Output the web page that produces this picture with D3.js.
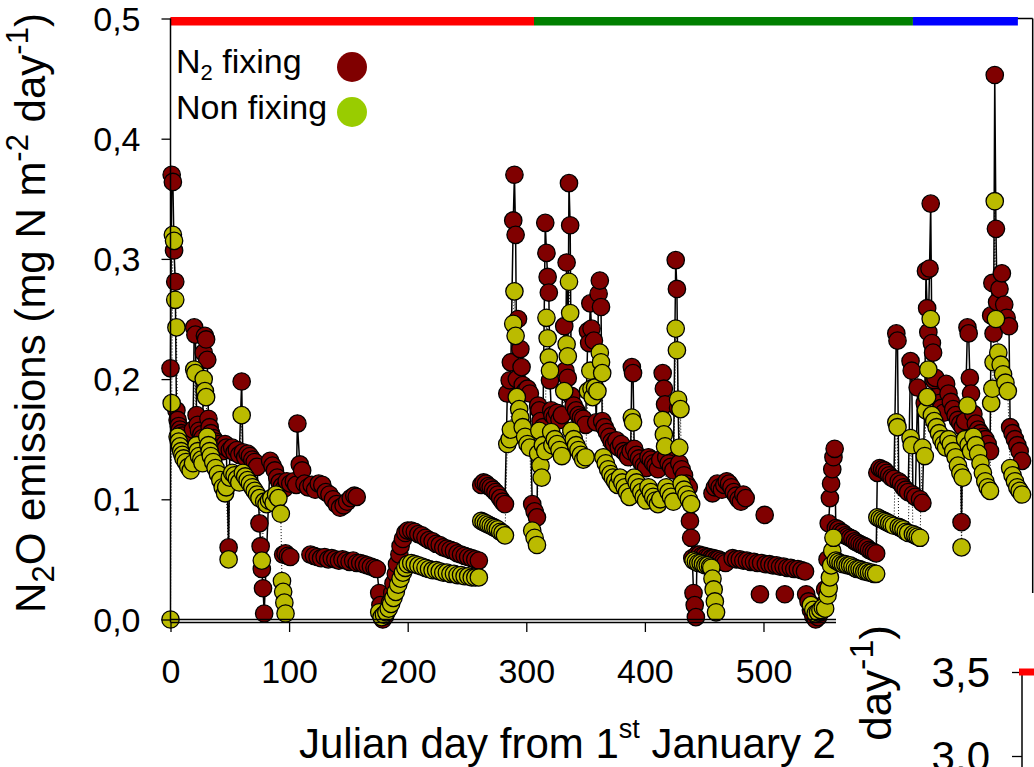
<!DOCTYPE html>
<html>
<head>
<meta charset="utf-8">
<script src="https://cdn.jsdelivr.net/npm/d3@7"></script>
<style>
  body { margin: 0; background: #fff; }
  svg { display: block; }
  text { font-family: 'Liberation Sans', Arial, sans-serif; fill: #000; }
</style>
</head>
<body>
<div id="viz"></div>
<script>
const width = 1034;
const height = 767;

// [day, N2O] pairs; null breaks the connecting line
const fixing = [
  [0,.209],[1,.370],[2,.364],[3,.307],[4,.281],[5,.174],[6,.166],[7,.161],[8,.158],[9,.155],[10,.153],[11,.150],[13,.148],[15,.146],[17,.150],[19,.158],
  [20,.243],[21,.237],[22,.170],[23,.162],[24,.157],[26,.154],[27,.151],[28,.222],[29,.236],[30,.233],[31,.216],[32,.167],[33,.160],[34,.155],[36,.151],
  [38,.148],[40,.146],[42,.143],[44,.140],[46,.146],[47,.143],[49,.060],[50,.141],[52,.143],[54,.139],[56,.141],[58,.137],[60,.198],[61,.139],[63,.135],
  [65,.138],[67,.136],[69,.133],[71,.131],[73,.127],[75,.080],[76,.061],[77,.042],[78,.026],[79,.005],
  [84,.132],[86,.128],[88,.124],[90,.118],[92,.114],[94,.111],[96,.109],[98,.115],[101,.113],[104,.115],[106,.112],[107,.163],[109,.129],[111,.124],
  [113,.113],[116,.110],[119,.112],[122,.108],[125,.113],[128,.112],[131,.106],[134,.104],[137,.100],[140,.096],[143,.093],[146,.095],[149,.098],
  [152,.101],[155,.103],[157,.102], null,
  [95,.054],[97,.055],[99,.053],[101,.052], null,
  [118,.054],[121,.053],[124,.052],[127,.051],[130,.052],[133,.050],[136,.051],[139,.050],[142,.049],[145,.050],[148,.049],[151,.048],[154,.049],
  [157,.047],[160,.047],[163,.046],[166,.045],[169,.044],[172,.043],[174,.042],[176,.022],[177,.012],[178,.004],[179,.000],[181,.003],[183,.008],
  [185,.014],[187,.022],[188,.030],[190,.038],[191,.046],[193,.054],[194,.061],[196,.067],[198,.072],[200,.074],[203,.074],[206,.073],[209,.071],
  [212,.070],[215,.068],[218,.066],[221,.065],[224,.063],[227,.062],[230,.060],[233,.059],[236,.058],[239,.057],[242,.055],[245,.054],[248,.053],
  [251,.052],[254,.051],[257,.050],[260,.049], null,
  [262,.112],[264,.114],[266,.113],[268,.111],[270,.110],[272,.108],[274,.106],[276,.104],[278,.101],[280,.098],[282,.096],[284,.188],[286,.199],
  [287,.214],[289,.332],[290,.370],[291,.320],[292,.200],[293,.250],[295,.225],[296,.210],[297,.195],[299,.190],[301,.192],[303,.188],
  [305,.096],[307,.090],[309,.085],[310,.178],[311,.174],[312,.165],[314,.160],[316,.330],[317,.305],[318,.285],
  [319,.272],[320,.199],[321,.174],[322,.170],[324,.168],[326,.172],[328,.166],[330,.170],[332,.244],[333,.207],[334,.297],[335,.201],[336,.363],
  [337,.328],[338,.186],[340,.178],[342,.174],[344,.170],[346,.168],[348,.167],[350,.162],[352,.240],[353,.230],[354,.263],[355,.242],[357,.232],
  [359,.164],[361,.271],[362,.282],[363,.260],[364,.165],[366,.160],[368,.156],[370,.152],[372,.148],[374,.146],[376,.149],[378,.143],[380,.146],
  [382,.140],[384,.138],[386,.135],[388,.140],[389,.210],[390,.205],[391,.142],[393,.137],[395,.134],[397,.131],[399,.128],[401,.126],[403,.135],
  [405,.133],[407,.130],[409,.128],[411,.125],[413,.133],[415,.205],[416,.192],[417,.179],[418,.135],[420,.130],[422,.127],[424,.124],[426,.299],
  [427,.275],[428,.176],[429,.130],[431,.125],[433,.120],[435,.113],[437,.110],[438,.082],[439,.068],[440,.051],[441,.022],[442,.012],[443,.002],
  [444,.054],[446,.054],[448,.053],[450,.053],[452,.052],[454,.052],[456,.051],[458,.051],[460,.050],[462,.050],[464,.049],[466,.048],[468,.047], null,
  [457,.105],[459,.110],[461,.113],[463,.110],[465,.108],[467,.112],[469,.115],[471,.113],[473,.110],[475,.106],[477,.103],[479,.100],[481,.098],
  [483,.104],[485,.101], null,
  [474,.051],[477,.050],[480,.050],[483,.049],[486,.049],[489,.048],[492,.048],[495,.047],[498,.047],[502,.046],[505,.046],[508,.045],[511,.045],
  [514,.044],[517,.044],[520,.043],[523,.043],[526,.042],[529,.042],[532,.041],[535,.040], null,
  [497,.021], null, [501,.087], null, [518,.021], null, [536,.021], null,
  [538,.015],[540,.008],[542,.003],[544,.000],[546,.002],[548,.006],[550,.012],[552,.025],[554,.050],[555,.080],[556,.101],[557,.113],[558,.125],
  [559,.135],[560,.142],[561,.076],[563,.075],[565,.073],[567,.072],[569,.070],[571,.069],[573,.068],[575,.067],[577,.065],[579,.064],[581,.063],
  [583,.062],[585,.061],[587,.060],[589,.058],[591,.057],[593,.056],[595,.055],[596,.122],[598,.126],[600,.125],[602,.124],[604,.122],[606,.120],
  [608,.118],[610,.117],[612,.238],[613,.232],[614,.115],[616,.113],[618,.110],[620,.108],[622,.106],[624,.215],[625,.207],[626,.104],[628,.102],
  [630,.193],[632,.100],[634,.097],[636,.180],[637,.290],[638,.259],[639,.239],[640,.292],[641,.346],[642,.230],[643,.222],[644,.199],[645,.201],
  [646,.185],[648,.180],[650,.176],[652,.172],[654,.196],[656,.188],[658,.181],[660,.175],[662,.170],[664,.166],[666,.163],[667,.081],[668,.160],
  [670,.165],[672,.243],[673,.238],[674,.201],[675,.188],[677,.171],[679,.163],[681,.158],[683,.155],[685,.152],[687,.150],[689,.146],[691,.140],
  [692,.253],[693,.280],[694,.238],[695,.453],[696,.325],[697,.264],[699,.275],[701,.288],[703,.262],[705,.251],[707,.244],[708,.160],[710,.155],
  [712,.150],[714,.145],[716,.140],[718,.132]
];

const nonFixing = [
  [0,.000],[1,.180],[2,.320],[3,.315],[4,.266],[5,.243],[6,.152],[7,.148],[8,.144],[9,.140],[10,.137],[11,.134],[13,.131],[15,.127],[17,.124],[19,.130],
  [20,.208],[21,.205],[22,.145],[23,.140],[24,.136],[26,.133],[27,.130],[28,.200],[29,.190],[30,.185],[31,.152],[32,.145],[33,.140],[34,.136],[36,.131],
  [38,.126],[40,.121],[42,.116],[44,.110],[46,.105],[47,.110],[49,.050],[50,.118],[52,.122],[54,.120],[56,.117],[58,.114],[60,.170],[61,.122],[63,.119],
  [65,.116],[67,.113],[69,.110],[71,.107],[73,.104],[75,.101],[77,.049],[79,.098],[81,.096],[83,.099],[85,.101],[87,.097],[89,.104],[91,.101],[93,.088],
  [94,.032],[95,.023],[96,.014],[97,.005], null,
  [176,.006],[178,.002],[180,.004],[182,.006],[184,.009],[186,.013],[188,.018],[190,.023],[192,.029],[194,.034],[196,.039],[198,.043],[200,.046],
  [203,.047],[206,.046],[209,.045],[212,.044],[215,.043],[218,.042],[221,.041],[224,.041],[227,.040],[230,.039],[233,.039],[236,.038],[239,.038],
  [242,.037],[245,.037],[248,.036],[251,.036],[254,.035],[257,.035],[260,.035], null,
  [262,.082],[264,.081],[266,.080],[268,.079],[270,.078],[272,.077],[274,.076],[276,.075],[278,.073],[280,.072],[282,.070],[284,.146],[286,.150],
  [287,.158],[289,.246],[290,.273],[291,.236],[292,.185],[294,.175],[295,.168],[297,.160],[299,.152],[301,.146],[303,.143],
  [305,.074],[307,.068],[309,.062],[310,.138],[311,.157],[312,.128],[313,.118],[314,.145],[316,.140],[317,.251],
  [318,.234],[319,.218],[320,.207],[321,.156],[322,.145],[324,.150],[326,.146],[328,.141],[330,.136],[332,.190],[334,.229],[335,.219],[336,.281],
  [337,.255],[338,.157],[340,.150],[342,.145],[344,.141],[346,.137],[348,.133],[350,.135],[352,.190],[354,.207],[355,.192],[356,.185],[358,.193],
  [360,.190],[362,.222],[363,.214],[364,.205],[365,.135],[367,.130],[369,.125],[371,.121],[373,.118],[375,.115],[377,.112],[379,.118],[381,.114],
  [383,.110],[385,.106],[387,.102],[389,.168],[390,.164],[391,.118],[393,.114],[395,.110],[397,.106],[399,.102],[401,.099],[403,.110],[405,.106],
  [407,.102],[409,.099],[411,.096],[413,.100],[415,.166],[416,.154],[417,.144],[418,.110],[420,.106],[422,.102],[424,.098],[426,.242],[427,.224],
  [428,.183],[429,.143],[430,.175],[431,.113],[433,.108],[435,.104],[437,.100],[439,.096],[441,.049],[443,.048],[445,.047],[447,.047],[449,.046],
  [451,.045],[453,.045],[455,.044],[456,.043],[457,.034],[458,.025],[459,.015],[460,.006], null,
  [540,.012],[542,.008],[544,.005],[546,.006],[548,.008],[550,.010],[552,.009],[554,.020],[555,.026],[556,.035],[557,.045],[558,.057],[559,.068],
  [561,.049],[563,.048],[565,.047],[567,.046],[569,.046],[571,.045],[573,.045],[575,.044],[577,.043],[579,.042],[581,.042],[583,.041],[585,.040],
  [587,.040],[589,.039],[591,.039],[593,.038],[595,.038],[596,.085],[598,.084],[600,.083],[602,.082],[604,.081],[606,.080],[608,.079],[610,.078],
  [612,.164],[613,.160],[614,.077],[616,.076],[618,.075],[620,.073],[622,.072],[624,.151],[625,.145],[626,.071],[628,.070],[630,.069],[632,.068],
  [634,.143],[636,.136],[637,.174],[638,.185],[639,.208],[641,.250],[642,.170],[644,.165],[646,.160],[648,.155],[650,.150],[652,.146],[654,.143],
  [656,.150],[658,.146],[660,.140],[662,.135],[664,.128],[666,.122],[667,.060],[668,.118],[670,.150],[672,.178],[673,.145],[675,.140],[677,.152],
  [679,.145],[681,.138],[683,.130],[685,.122],[687,.115],[689,.110],[691,.107],[692,.180],[693,.192],[694,.214],[695,.348],[696,.250],[698,.222],
  [700,.212],[702,.204],[704,.197],[706,.190],[708,.126],[710,.120],[712,.115],[714,.110],[716,.107],[718,.104]
];

const periodBreaks = [0, 306.5, 626, 714.5];
const periodColors = ['#ff0000', '#008000', '#0000ff'];
const xTicks = [0, 100, 200, 300, 400, 500];
const yTicks = [0, 0.1, 0.2, 0.3, 0.4, 0.5];
const insetTicks = [3.0, 3.5];

const fixColor = '#800000';
const nonColor = '#bbbb00';
const legendNonColor = '#99cc00';
const comma = d => d3.format('.1f')(d).replace('.', ',');

const svg = d3.select('#viz').append('svg')
  .attr('width', width)
  .attr('height', height);

const x = d3.scaleLinear().domain([0, 727]).range([170.5, 1032.7]);
const y = d3.scaleLinear().domain([0, 0.5]).range([619.5, 18.5]);

// lines first, dots on top
const line = d3.line()
  .defined(d => d !== null)
  .x(d => x(d[0]))
  .y(d => y(d[1]));

svg.append('path')
  .attr('d', line(fixing))
  .attr('fill', 'none')
  .attr('stroke', '#000')
  .attr('stroke-width', 1.5);

svg.append('path')
  .attr('d', line(nonFixing))
  .attr('fill', 'none')
  .attr('stroke', '#000')
  .attr('stroke-width', 1)
  .attr('stroke-dasharray', '1,2');

svg.append('g')
  .selectAll('circle')
  .data(fixing.filter(d => d))
  .join('circle')
  .attr('cx', d => x(d[0]))
  .attr('cy', d => y(d[1]))
  .attr('r', 8.7)
  .attr('fill', fixColor)
  .attr('stroke', '#000')
  .attr('stroke-width', 1.3);

svg.append('g')
  .selectAll('circle')
  .data(nonFixing.filter(d => d))
  .join('circle')
  .attr('cx', d => x(d[0]))
  .attr('cy', d => y(d[1]))
  .attr('r', 8.7)
  .attr('fill', nonColor)
  .attr('stroke', '#000')
  .attr('stroke-width', 1.3);

// frame
svg.append('line')
  .attr('x1', x(0)).attr('x2', x(727))
  .attr('y1', y(0.5)).attr('y2', y(0.5))
  .attr('stroke', '#000').attr('stroke-width', 1.5);
svg.append('line')
  .attr('x1', x(727)).attr('x2', x(727))
  .attr('y1', y(0.5)).attr('y2', 593)
  .attr('stroke', '#000').attr('stroke-width', 1.5);
svg.append('line')
  .attr('x1', x(0)).attr('x2', x(727))
  .attr('y1', y(0)).attr('y2', y(0))
  .attr('stroke', '#000').attr('stroke-width', 1.3);

// period bars
svg.append('g')
  .selectAll('rect')
  .data(periodColors)
  .join('rect')
  .attr('x', (d, i) => x(periodBreaks[i]))
  .attr('width', (d, i) => x(periodBreaks[i + 1]) - x(periodBreaks[i]))
  .attr('y', 17)
  .attr('height', 8.5)
  .attr('fill', d => d);

const yAxis = svg.append('g')
  .attr('transform', `translate(${x(0)}, 0)`)
  .call(d3.axisLeft(y).tickValues(yTicks).tickSize(9).tickSizeOuter(0).tickPadding(21).tickFormat(comma));
yAxis.select('.domain').remove();
yAxis.append('line').attr('y1', y(0.5)).attr('y2', 622.5).attr('stroke', '#000').attr('stroke-width', 1.5);
yAxis.selectAll('.tick line').attr('stroke-width', 1.3);
yAxis.selectAll('text').attr('font-size', 34).attr('dy', '0.34em');

const xAxis = svg.append('g')
  .attr('transform', 'translate(0, 622)')
  .call(d3.axisBottom(x).tickValues(xTicks).tickSize(10).tickSizeOuter(0));
xAxis.select('.domain').attr('stroke-width', 1.3);
xAxis.selectAll('.tick line').attr('stroke-width', 1.3);
xAxis.selectAll('text').attr('font-size', 34).attr('y', 61).attr('dy', 0);

// legend
const legend = svg.append('g');
const leg1 = legend.append('text').attr('x', 176).attr('y', 73).attr('font-size', 34);
leg1.append('tspan').text('N');
leg1.append('tspan').attr('font-size', 22).attr('dy', 7).text('2');
leg1.append('tspan').attr('dy', -7).text(' fixing');
legend.append('text').attr('x', 176).attr('y', 119).attr('font-size', 34).text('Non fixing');
legend.append('circle').attr('cx', 352).attr('cy', 67).attr('r', 15).attr('fill', fixColor);
legend.append('circle').attr('cx', 352).attr('cy', 112).attr('r', 15).attr('fill', legendNonColor);

// axis titles
const yTitle = svg.append('text')
  .attr('transform', 'translate(45, 313) rotate(-90)')
  .attr('text-anchor', 'middle')
  .attr('font-size', 42);
yTitle.append('tspan').text('N');
yTitle.append('tspan').attr('font-size', 31).attr('dy', 9).text('2');
yTitle.append('tspan').attr('dy', -9).text('O emissions (mg N m');
yTitle.append('tspan').attr('font-size', 31).attr('dy', -17).text('-2');
yTitle.append('tspan').attr('dy', 17).text(' day');
yTitle.append('tspan').attr('font-size', 31).attr('dy', -17).text('-1');
yTitle.append('tspan').attr('dy', 17).text(')');

const xTitle = svg.append('text')
  .attr('x', 299).attr('y', 758)
  .attr('font-size', 42);
xTitle.append('tspan').text('Julian day from 1');
xTitle.append('tspan').attr('font-size', 27).attr('dy', -20).text('st');
xTitle.append('tspan').attr('dy', 20).text(' January 2');

// neighbouring panel overlapping bottom right
svg.append('rect')
  .attr('x', 836).attr('y', 600)
  .attr('width', width - 836).attr('height', height - 600)
  .attr('fill', '#fff');

const y2 = d3.scaleLinear().domain([3.0, 3.5]).range([756, 672]);
const inset = svg.append('g').attr('transform', 'translate(1022, 0)');
inset.call(d3.axisLeft(y2).tickValues(insetTicks).tickSize(10).tickSizeOuter(0).tickPadding(22).tickFormat(comma));
inset.select('.domain').remove();
inset.append('line').attr('y1', y2(3.5)).attr('y2', height).attr('stroke', '#000').attr('stroke-width', 1.5);
inset.selectAll('.tick line').attr('stroke-width', 1.3);
inset.selectAll('text').attr('font-size', 42).attr('dy', '0.34em');
inset.append('rect')
  .attr('x', -3).attr('y', y2(3.5) - 3.5)
  .attr('width', width - 1019).attr('height', 7)
  .attr('fill', periodColors[0]);

const y2Title = svg.append('text')
  .attr('transform', 'translate(891, 625) rotate(-90)')
  .attr('text-anchor', 'end')
  .attr('font-size', 44);
y2Title.append('tspan').text('day');
y2Title.append('tspan').attr('font-size', 34).attr('dy', -18).text('-1');
y2Title.append('tspan').attr('dy', 18).text(')');
</script>
</body>
</html>
